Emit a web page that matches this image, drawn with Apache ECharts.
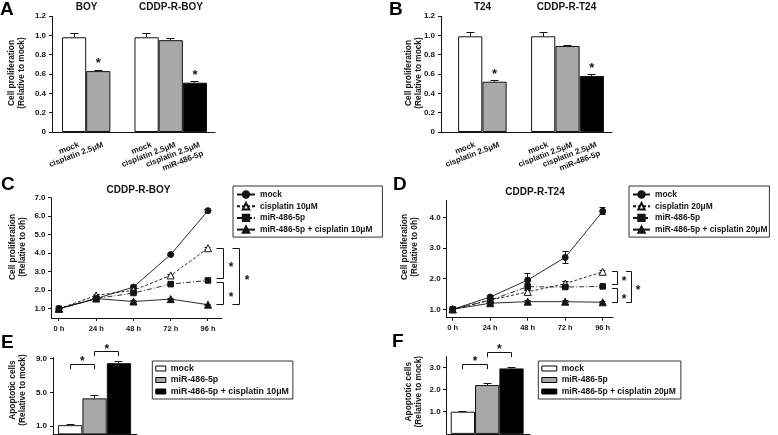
<!DOCTYPE html>
<html><head><meta charset="utf-8">
<script src="https://cdn.jsdelivr.net/npm/echarts@6/dist/echarts.min.js"></script>
<style>
html,body{margin:0;padding:0;background:#fff;width:778px;height:435px;overflow:hidden;position:relative}
.p{position:absolute;left:0;top:0;width:778px;height:435px}
</style></head><body>
<div id="A" class="p"></div><div id="B" class="p"></div>
<div id="C" class="p"></div><div id="D" class="p"></div>
<div id="E" class="p"></div><div id="F" class="p"></div>
<script>
// ---------- DATA ----------
const labelsGroup1 = ['mock', 'cisplatin 2.5μM'];
const labelsGroup2 = ['mock', 'cisplatin 2.5μM', 'cisplatin 2.5μM\nmiR-486-5p'];
const valuesBOY = [0.98, 0.63];
const errorsBOY = [0.04, 0.01];
const sigBOY = [0, 1];
const valuesCddpBOY = [0.98, 0.95, 0.51];
const errorsCddpBOY = [0.04, 0.02, 0.01];
const sigCddpBOY = [0, 0, 1];
const valuesT24 = [0.99, 0.52];
const errorsT24 = [0.04, 0.01];
const sigT24 = [0, 1];
const valuesCddpT24 = [0.99, 0.89, 0.58];
const errorsCddpT24 = [0.04, 0.01, 0.01];
const sigCddpT24 = [0, 0, 1];
const yTicksAB = [0, 0.2, 0.4, 0.6, 0.8, 1.0, 1.2];

const timeLabels = ['0 h', '24 h', '48 h', '72 h', '96 h'];
const namesC = ['mock', 'cisplatin 10μM', 'miR-486-5p', 'miR-486-5p + cisplatin 10μM'];
const boyMock = [1.0, 1.55, 2.17, 3.93, 6.30];
const boyCis = [1.0, 1.72, 2.00, 2.80, 4.27];
const boyMiR = [1.0, 1.55, 1.85, 2.33, 2.53];
const boyCombo = [1.0, 1.55, 1.39, 1.52, 1.22];
const boyMockErr = [0, 0.04, 0.06, 0.06, 0.08];
const boyCisErr = [0, 0.04, 0.04, 0.05, 0.05];
const boyMiRErr = [0, 0.03, 0.04, 0.04, 0.04];
const boyComboErr = [0, 0.03, 0.03, 0.03, 0.03];
const yTicksC = [1, 2, 3, 4, 5, 6, 7];

const namesD = ['mock', 'cisplatin 20μM', 'miR-486-5p', 'miR-486-5p + cisplatin 20μM'];
const t24Mock = [1.0, 1.40, 1.96, 2.70, 4.21];
const t24Cis = [1.0, 1.30, 1.57, 1.84, 2.23];
const t24MiR = [1.0, 1.30, 1.74, 1.73, 1.75];
const t24Combo = [1.0, 1.20, 1.25, 1.25, 1.23];
const t24MockErr = [0, 0.04, 0.22, 0.20, 0.12];
const t24CisErr = [0, 0.04, 0.06, 0.06, 0.05];
const t24MiRErr = [0, 0.04, 0.12, 0.06, 0.04];
const t24ComboErr = [0, 0.03, 0.03, 0.03, 0.03];
const yTicksD = [1, 2, 3, 4];

const namesE = ['mock', 'miR-486-5p', 'miR-486-5p + cisplatin 10μM'];
const apoptosisBOY = [1.1, 4.3, 8.5];
const apoptosisBOYErr = [0.05, 0.3, 0.15];
const yTicksE = [1, 5, 9];
const namesF = ['mock', 'miR-486-5p', 'miR-486-5p + cisplatin 20μM'];
const apoptosisT24 = [1.0, 2.2, 2.95];
const apoptosisT24Err = [0.02, 0.07, 0.02];
const yTicksF = [1, 2, 3];

// ---------- STYLE ----------
const FONT = '"Liberation Sans", Arial, Helvetica, sans-serif';
const INK = '#141414';
const GRAY = '#a8a8a8';
const barFills = ['#ffffff', GRAY, '#000000'];

function chart(id) {
  return echarts.init(document.getElementById(id), null, {renderer: 'canvas', width: 778, height: 435});
}
function gText(x, y, text, size, extra) {
  return Object.assign({type: 'text', x: x, y: y, silent: true, z: 10,
    style: {text: text, fill: INK, font: 'bold ' + size + 'px ' + FONT, align: 'center', verticalAlign: 'middle', lineHeight: size + 1.5}}, extra || {});
}
function letter(x, y, t) {
  return {type: 'text', x: x, y: y, silent: true, style: {text: t, fill: '#000', font: 'bold 19px ' + FONT, align: 'left', verticalAlign: 'middle'}};
}
function yName(x, y, t) {
  return {type: 'text', x: x, y: y, rotation: Math.PI / 2, silent: true,
    style: {text: t, fill: INK, font: 'bold 8.3px ' + FONT, align: 'center', verticalAlign: 'middle', lineHeight: 10}};
}
function starEl(x, yc, size) {
  size = size || 13;
  return {type: 'text', x: x, y: yc + size * 0.22, style: {text: '*', fill: INK, font: 'bold ' + size + 'px ' + FONT, align: 'center', verticalAlign: 'middle'}};
}
const crisp = v => Math.round(v - 0.5) + 0.5;
function lineEl(x1, y1, x2, y2) {
  return {type: 'line', shape: {x1: x1, y1: y1, x2: x2, y2: y2}, style: {stroke: INK, lineWidth: 1}};
}
function xAxisCfg(min, max) {
  return {type: 'value', min: min, max: max, axisLine: {show: true, onZero: false, lineStyle: {color: INK, width: 1}},
    axisTick: {show: false}, axisLabel: {show: false}, splitLine: {show: false}};
}
function yAxisCfg(min, max, ticks, fmt) {
  return {type: 'value', min: min, max: max,
    axisLine: {show: false, onZero: false}, axisTick: {show: false},
    axisLabel: {customValues: ticks, fontSize: 8, fontWeight: 'bold', color: INK, fontFamily: FONT, margin: 6, formatter: fmt,
      showMinLabel: true, showMaxLabel: true},
    splitLine: {show: false}};
}
const fmt1 = v => (Math.abs(v) < 1e-9 ? '0' : v.toFixed(1));

// y axis line + outward ticks drawn through the chart's own scale
function yAxisSeries(xMin, yMin, yMax, ticks) {
  return {type: 'custom', silent: true, z: 8, data: [[xMin, yMin, yMax]],
    renderItem: function (params, api) {
      const a = api.coord([api.value(0), api.value(1)]), b = api.coord([api.value(0), api.value(2)]);
      const X = crisp(a[0]);
      const ch = [lineEl(X, a[1] + 0.5, X, b[1])];
      ticks.forEach(t => { const p = api.coord([api.value(0), t]); const Y = crisp(p[1]); ch.push(lineEl(X - 3.5, Y, X, Y)); });
      return {type: 'group', children: ch};
    }};
}
// x tick labels as text placed by the chart's scale
function xLabelSeries(positions, labels, opts) {
  return {type: 'custom', silent: true, z: 8, data: positions.map((p, i) => [p, i]),
    renderItem: function (params, api) {
      const p = api.coord([api.value(0), opts.base]);
      const txt = labels[api.value(1)];
      return {type: 'text', x: p[0] + (opts.dx || 0), y: p[1] + opts.margin, rotation: (opts.rotate || 0) * Math.PI / 180,
        style: {text: txt, fill: INK, font: 'bold ' + opts.size + 'px ' + FONT, align: opts.align, verticalAlign: opts.valign, lineHeight: opts.lh || opts.size + 1.5}};
    }};
}
function xTickSeries(positions, base) {
  return {type: 'custom', silent: true, z: 8, data: positions.map(p => [p]),
    renderItem: function (params, api) {
      const p = api.coord([api.value(0), base]);
      const X = crisp(p[0]);
      return lineEl(X, p[1], X, p[1] + 3);
    }};
}

// error bar + significance star renderer
function errRender(cap, upOnly, starGap) {
  return function (params, api) {
    const x = api.value(0), v = api.value(1), e = api.value(2), sig = api.value(3);
    const top = api.coord([x, v + e]);
    const bot = api.coord([x, upOnly ? v : v - e]);
    const ch = [];
    if (e > 0) {
      const X = crisp(top[0]);
      ch.push(lineEl(X, top[1], X, bot[1]));
      ch.push(lineEl(X - cap, crisp(top[1]), X + cap, crisp(top[1])));
      if (!upOnly) ch.push(lineEl(X - cap, crisp(bot[1]), X + cap, crisp(bot[1])));
    }
    if (sig) ch.push(starEl(top[0], top[1] - starGap, 13));
    return {type: 'group', children: ch};
  };
}

// ---------- A / B ----------
function barPanel(id, grid, xMin, xMax, vals1, err1, sig1, vals2, err2, sig2, extraGraphic) {
  const c = chart(id);
  const pos = [], vals = [], errs = [], sigs = [], labs = [], fills = [];
  vals1.forEach((v, i) => { pos.push(i); vals.push(v); errs.push(err1[i]); sigs.push(sig1[i]); labs.push(labelsGroup1[i]); fills.push(barFills[i]); });
  vals2.forEach((v, i) => { pos.push(vals1.length + 1 + i); vals.push(v); errs.push(err2[i]); sigs.push(sig2[i]); labs.push(labelsGroup2[i]); fills.push(barFills[i]); });
  c.setOption({
    animation: false,
    grid: grid,
    xAxis: xAxisCfg(xMin, xMax),
    yAxis: yAxisCfg(0, 1.2, yTicksAB, fmt1),
    series: [
      {type: 'bar', barWidth: 24.2, data: pos.map((p, i) => ({value: [p, vals[i]], itemStyle: {color: fills[i], borderColor: INK, borderWidth: 1}})), z: 2},
      {type: 'custom', renderItem: errRender(4, true, 9.5), data: pos.map((p, i) => [p, vals[i], errs[i], sigs[i]]), z: 5},
      yAxisSeries(xMin, 0, 1.2, yTicksAB),
      xLabelSeries(pos, labs, {base: 0, margin: 8, dx: 3, rotate: 21, size: 8, align: 'right', valign: 'top', lh: 9.5})
    ],
    graphic: extraGraphic
  });
}
barPanel('A', {left: 52, top: 16, width: 163, height: 116}, -0.914, 5.83,
  valuesBOY, errorsBOY, sigBOY, valuesCddpBOY, errorsCddpBOY, sigCddpBOY,
  [letter(0, 10, 'A'), gText(86.7, 7.5, 'BOY', 10), gText(171, 7.5, 'CDDP-R-BOY', 10),
   yName(17, 73, 'Cell proliferation\n(Relative to mock)')]);
barPanel('B', {left: 441, top: 16, width: 171, height: 116}, -1.2, 5.828,
  valuesT24, errorsT24, sigT24, valuesCddpT24, errorsCddpT24, sigCddpT24,
  [letter(389, 10, 'B'), gText(482.5, 7.5, 'T24', 10), gText(566.5, 7.5, 'CDDP-R-T24', 10),
   yName(414, 73, 'Cell proliferation\n(Relative to mock)')]);

// ---------- C / D ----------
const lineDash = ['solid', [3, 2], [5, 2, 1, 2], 'solid'];
const lineSymbols = ['circle', 'triangle', 'rect', 'triangle'];
const lineFills = [INK, '#ffffff', INK, INK];
const lineSizes = [6, 7, 5.5, 7];

function bracketRender(offsets, tick, starDx) {
  return function (params, api) {
    const x = api.value(0), yT = api.value(1), yB = api.value(2), lvl = api.value(3), gT = api.value(4), gB = api.value(5);
    const pT = api.coord([x, yT]), pB = api.coord([x, yB]);
    const X = crisp(pT[0] + offsets[lvl]);
    const y1 = crisp(pT[1] + gT), y2 = crisp(pB[1] - gB);
    return {type: 'group', children: [
      {type: 'polyline', shape: {points: [[X - tick, y1], [X, y1], [X, y2], [X - tick, y2]]}, style: {stroke: INK, lineWidth: 1, fill: null}},
      starEl(X + starDx, (y1 + y2) / 2 + 1.5, 12)
    ]};
  };
}

function linePanel(id, grid, xMin, xMax, yMin, yMax, yTicks, names, seriesVals, seriesErr, legendCfg, bOffsets, bTick, bStarDx, extraGraphic) {
  const c = chart(id);
  const series = [];
  names.forEach((n, k) => {
    series.push({type: 'line', name: n, data: seriesVals[k].map((v, i) => [i, v]), symbol: lineSymbols[k], symbolSize: lineSizes[k],
      lineStyle: {color: INK, width: 0.9, type: lineDash[k]}, itemStyle: {color: lineFills[k], borderColor: INK, borderWidth: 1}, z: 3 + k});
  });
  names.forEach((n, k) => {
    series.push({type: 'custom', renderItem: errRender(3, false, 0), data: seriesVals[k].map((v, i) => [i, v, seriesErr[k][i], 0]), z: 2});
  });
  const last = timeLabels.length - 1;
  const cis = seriesVals[1][last], mir = seriesVals[2][last], combo = seriesVals[3][last];
  series.push({type: 'custom', renderItem: bracketRender(bOffsets, bTick, bStarDx), z: 2,
    data: [[last, cis, mir, 0, 0, 1.7], [last, mir, combo, 0, 1.7, 0], [last, cis, combo, 1, 0, 0]]});
  const tpos = timeLabels.map((t, i) => i);
  series.push(yAxisSeries(xMin, yMin, yMax, yTicks));
  series.push(xTickSeries(tpos, yMin));
  series.push(xLabelSeries(tpos, timeLabels, {base: yMin, margin: 10.5, size: 7.5, align: 'center', valign: 'middle'}));
  c.setOption({
    animation: false,
    grid: grid,
    legend: legendCfg,
    xAxis: xAxisCfg(xMin, xMax),
    yAxis: yAxisCfg(yMin, yMax, yTicks, fmt1),
    series: series,
    graphic: extraGraphic
  });
}
function legendCfg(left, top, padding, itemWidth, fontSize, itemGap, data) {
  return {orient: 'vertical', left: left, top: top, padding: padding, itemGap: itemGap, itemWidth: itemWidth, itemHeight: 8,
    borderColor: '#333', borderWidth: 1, backgroundColor: '#fff', selectedMode: false,
    textStyle: {fontSize: fontSize, fontWeight: 'bold', fontFamily: FONT, color: INK, lineHeight: 9}, data: data};
}
linePanel('C', {left: 51.5, top: 197.7, width: 170.5, height: 120.3}, -0.2, 4.376, 0.5, 7.0, yTicksC, namesC,
  [boyMock, boyCis, boyMiR, boyCombo], [boyMockErr, boyCisErr, boyMiRErr, boyComboErr],
  legendCfg(233, 186, [4, 10, 3, 3], 18, 8.4, 2.7, namesC), [16, 32], 7, 7.7,
  [letter(1, 185, 'C'), gText(138.5, 190.5, 'CDDP-R-BOY', 10), yName(18, 247, 'Cell proliferation\n(Relative to 0h)')]);
linePanel('D', {left: 446.7, top: 200, width: 166.3, height: 117.7}, -0.16, 4.275, 0.725, 4.58, yTicksD, namesD,
  [t24Mock, t24Cis, t24MiR, t24Combo], [t24MockErr, t24CisErr, t24MiRErr, t24ComboErr],
  legendCfg(629, 186, [4, 2, 3, 3], 17, 8.4, 2.7, namesD), [15.3, 29.3], 5.5, 6.5,
  [letter(393, 185, 'D'), gText(535, 192, 'CDDP-R-T24', 10), yName(410, 247, 'Cell proliferation\n(Relative to 0h)')]);

// ---------- E / F ----------
function hBracketRender(drop) {
  return function (params, api) {
    const i = api.value(0), j = api.value(1), lvl = api.value(2);
    const a = api.coord([i, lvl]), b = api.coord([j, lvl]);
    const Y = crisp(a[1]), X1 = crisp(a[0]), X2 = crisp(b[0]);
    return {type: 'group', children: [
      {type: 'polyline', shape: {points: [[X1, Y + drop], [X1, Y], [X2, Y], [X2, Y + drop]]}, style: {stroke: INK, lineWidth: 1, fill: null}},
      starEl((a[0] + b[0]) / 2, a[1] - 5, 12)
    ]};
  };
}
function apoPanel(id, grid, xMin, xMax, yMax, yTicks, names, vals, errs, levels, legend, extraGraphic) {
  const c = chart(id);
  const series = names.map((n, k) => ({type: 'bar', name: n, stack: 'all', barWidth: 24.3,
    data: [[k, vals[k]]], itemStyle: {color: barFills[k], borderColor: INK, borderWidth: 1}, z: 2}));
  series.push({type: 'custom', renderItem: errRender(4, true, 0), data: vals.map((v, k) => [k, v, errs[k], 0]), z: 5});
  series.push({type: 'custom', renderItem: hBracketRender(4.7), data: [[0, 1, levels[0]], [1, 2, levels[1]]], z: 5});
  series.push(yAxisSeries(xMin, 0, yMax, yTicks));
  c.setOption({
    animation: false,
    grid: grid,
    legend: legend,
    xAxis: xAxisCfg(xMin, xMax),
    yAxis: yAxisCfg(0, yMax, yTicks, fmt1),
    series: series,
    graphic: extraGraphic
  });
}
function barLegend(left, top, padding, itemWidth, fontSize, names) {
  return {orient: 'vertical', left: left, top: top, padding: padding, itemGap: 2.5, itemWidth: itemWidth, itemHeight: 5, icon: 'rect',
    borderColor: '#333', borderWidth: 1, selectedMode: false,
    textStyle: {fontSize: fontSize, fontWeight: 'bold', fontFamily: FONT, color: INK, lineHeight: 9},
    data: names.map((n, k) => ({name: n, itemStyle: {color: barFills[k], borderColor: '#000', borderWidth: 1}}))};
}
apoPanel('E', {left: 53, top: 357.3, width: 84, height: 77.1}, -0.705, 2.74, 9.2, yTicksE, namesE, apoptosisBOY, apoptosisBOYErr,
  [8.37, 9.84], barLegend(152.3, 361, [3, 4, 3, 3], 10, 8.8, namesE),
  [letter(1, 342.5, 'E'), yName(17.5, 390, 'Apoptotic cells\n(Relative to mock)')]);
apoPanel('F', {left: 446.7, top: 356.2, width: 83.3, height: 77.7}, -0.665, 2.76, 3.5, yTicksF, namesF, apoptosisT24, apoptosisT24Err,
  [3.13, 3.67], barLegend(538.3, 361, [3, 5, 3, 3], 15, 8.5, namesF),
  [letter(392, 341.5, 'F'), yName(413.5, 391.7, 'Apoptotic cells\n(Relative to mock)')]);
</script>
</body></html>
